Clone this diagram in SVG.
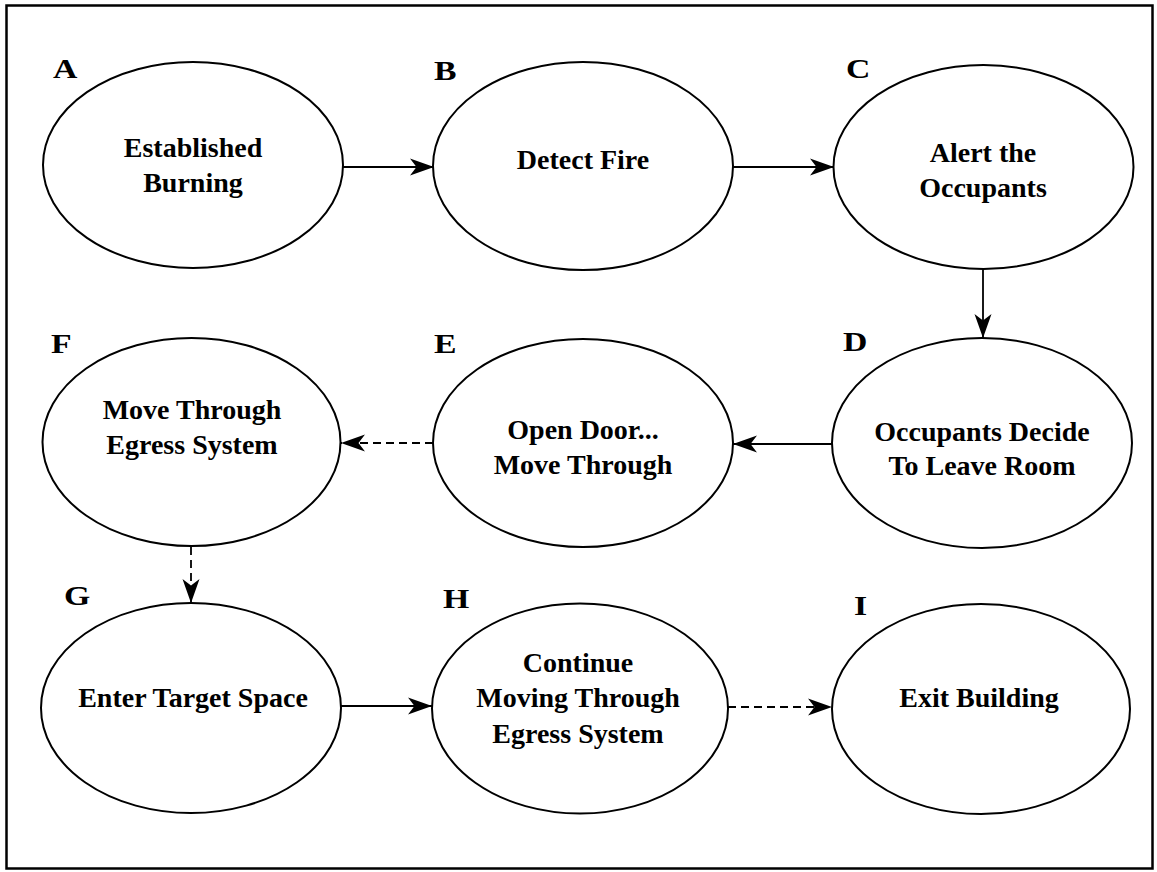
<svg xmlns="http://www.w3.org/2000/svg" width="1157" height="872" viewBox="0 0 1157 872">
<style>
.node ellipse{fill:#fff;stroke:#000;stroke-width:2}
.lbl{font-family:"Liberation Serif","Times New Roman",serif;font-weight:bold;font-size:28px;fill:#000;text-anchor:middle}
.let{font-family:"Liberation Serif","Times New Roman",serif;font-weight:bold;font-size:27px;fill:#000}
.conn{stroke:#000;stroke-width:1.8;fill:none}
.dash{stroke-dasharray:8 5}
</style>
<defs>
<marker id="ah" markerUnits="userSpaceOnUse" markerWidth="26" markerHeight="18" refX="24" refY="9" orient="auto" viewBox="0 0 26 18">
<path d="M0,0.5 L24,9 L0,17.5 L6.5,9 Z" fill="#000"/>
</marker>
</defs>
<rect x="6.5" y="5.5" width="1146" height="863" fill="#fff" stroke="#000" stroke-width="2.5"/>
<g id="connectors">
<line class="conn" x1="343" y1="167" x2="434" y2="167" marker-end="url(#ah)"/>
<line class="conn" x1="733" y1="167" x2="834" y2="167" marker-end="url(#ah)"/>
<line class="conn" x1="983" y1="269" x2="983" y2="338" marker-end="url(#ah)"/>
<line class="conn" x1="832" y1="444" x2="733" y2="444" marker-end="url(#ah)"/>
<line class="conn dash" x1="433" y1="443" x2="341" y2="443" marker-end="url(#ah)"/>
<line class="conn dash" x1="191" y1="547" x2="191" y2="603" marker-end="url(#ah)"/>
<line class="conn" x1="341" y1="706" x2="432" y2="706" marker-end="url(#ah)"/>
<line class="conn dash" x1="728" y1="707" x2="832" y2="707" marker-end="url(#ah)"/>
</g>
<g id="A" class="node">
<ellipse cx="193" cy="165" rx="150" ry="103"/>
<text class="let" transform="translate(53,78) scale(1.25,1)">A</text>
<text class="lbl" x="193" y="157">Established</text>
<text class="lbl" x="193" y="192">Burning</text>
</g>
<g id="B" class="node">
<ellipse cx="583" cy="166" rx="150" ry="104"/>
<text class="let" transform="translate(434,80) scale(1.25,1)">B</text>
<text class="lbl" x="583" y="169">Detect Fire</text>
</g>
<g id="C" class="node">
<ellipse cx="983.5" cy="167" rx="150" ry="102"/>
<text class="let" transform="translate(846,78) scale(1.25,1)">C</text>
<text class="lbl" x="983" y="162">Alert the</text>
<text class="lbl" x="983" y="197">Occupants</text>
</g>
<g id="D" class="node">
<ellipse cx="982" cy="443" rx="150" ry="105"/>
<text class="let" transform="translate(843,351) scale(1.25,1)">D</text>
<text class="lbl" x="982" y="441">Occupants Decide</text>
<text class="lbl" x="982" y="475">To Leave Room</text>
</g>
<g id="E" class="node">
<ellipse cx="583" cy="443" rx="150" ry="104"/>
<text class="let" transform="translate(434,353) scale(1.25,1)">E</text>
<text class="lbl" x="583" y="439">Open Door...</text>
<text class="lbl" x="583" y="474">Move Through</text>
</g>
<g id="F" class="node">
<ellipse cx="191.5" cy="442" rx="149" ry="104"/>
<text class="let" transform="translate(51,353) scale(1.25,1)">F</text>
<text class="lbl" x="192" y="419">Move Through</text>
<text class="lbl" x="192" y="454">Egress System</text>
</g>
<g id="G" class="node">
<ellipse cx="191" cy="708" rx="150" ry="105"/>
<text class="let" transform="translate(64,605) scale(1.25,1)">G</text>
<text class="lbl" x="193" y="707">Enter Target Space</text>
</g>
<g id="H" class="node">
<ellipse cx="580" cy="708.5" rx="148" ry="105"/>
<text class="let" transform="translate(443,608) scale(1.25,1)">H</text>
<text class="lbl" x="578" y="672">Continue</text>
<text class="lbl" x="578" y="707">Moving Through</text>
<text class="lbl" x="578" y="743">Egress System</text>
</g>
<g id="I" class="node">
<ellipse cx="981" cy="709" rx="149" ry="105"/>
<text class="let" transform="translate(854,615) scale(1.25,1)">I</text>
<text class="lbl" x="979" y="707">Exit Building</text>
</g>
</svg>
